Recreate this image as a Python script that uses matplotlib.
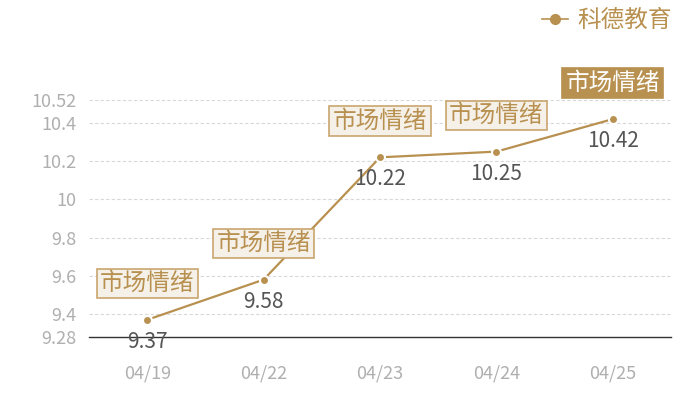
import matplotlib
matplotlib.use("Agg")
import matplotlib.pyplot as plt
from matplotlib.lines import Line2D

plt.rcParams['font.family'] = ['Noto Sans CJK SC', 'DejaVu Sans']

categories = ["04/19", "04/22", "04/23", "04/24", "04/25"]
values = [9.37, 9.58, 10.22, 10.25, 10.42]
yticks = [9.28, 9.4, 9.6, 9.8, 10, 10.2, 10.4, 10.52]
ytick_labels = ["9.28", "9.4", "9.6", "9.8", "10", "10.2", "10.4", "10.52"]
tag_text = "市场情绪"
series_name = "科德教育"

gold = "#B8904F"
fig = plt.figure(figsize=(7, 4), dpi=100)
ax = fig.add_axes([89/700, 63/400, 582/700, 237/400])

x = list(range(len(categories)))
ax.plot(x, values, color=gold, lw=1.6, zorder=3)
ax.scatter(x, values, s=42, color=gold, edgecolors="white", linewidths=1.5, zorder=4)

ax.set_xlim(-0.5, len(categories) - 0.5)
ax.set_ylim(9.28, 10.52)
ax.set_yticks(yticks)
ax.set_yticklabels(ytick_labels)
ax.set_xticks(x)
ax.set_xticklabels(categories)
ax.tick_params(axis="both", length=0, labelcolor="#AFAFAF", labelsize=13)
ax.tick_params(axis="x", pad=20)
ax.tick_params(axis="y", pad=9)
for t in yticks[1:]:
    ax.axhline(t, color="#D8D8D8", lw=0.8, ls=(0, (3, 2)), zorder=1)
for s in ["top", "right", "left"]:
    ax.spines[s].set_visible(False)
ax.spines["bottom"].set_color("#333333")
ax.spines["bottom"].set_linewidth(1)

for i, v in enumerate(values):
    ax.annotate(f"{v:.2f}", (i, v), xytext=(0, -8), textcoords="offset points",
                ha="center", va="top", fontsize=15, color="#555555", zorder=5)
    last = i == len(values) - 1
    ax.annotate(tag_text, (i, v), xytext=(0, 26), textcoords="offset points",
                ha="center", va="center", fontsize=17,
                color="white" if last else gold, zorder=6,
                bbox=dict(boxstyle="square,pad=0.14",
                          fc=gold if last else "#F5F0E8",
                          ec=gold if last else "#C9A56E", lw=1.2))

handle = Line2D([0], [0], color=gold, lw=1.2, marker="o", markersize=7,
                markeredgecolor=gold)
leg = fig.legend([handle], [series_name], loc="upper right",
                 bbox_to_anchor=(0.99, 1.03), frameon=False, fontsize=17,
                 handlelength=1.1, handletextpad=0.4)
for t in leg.get_texts():
    t.set_color(gold)

fig.savefig("out.png", dpi=100)
